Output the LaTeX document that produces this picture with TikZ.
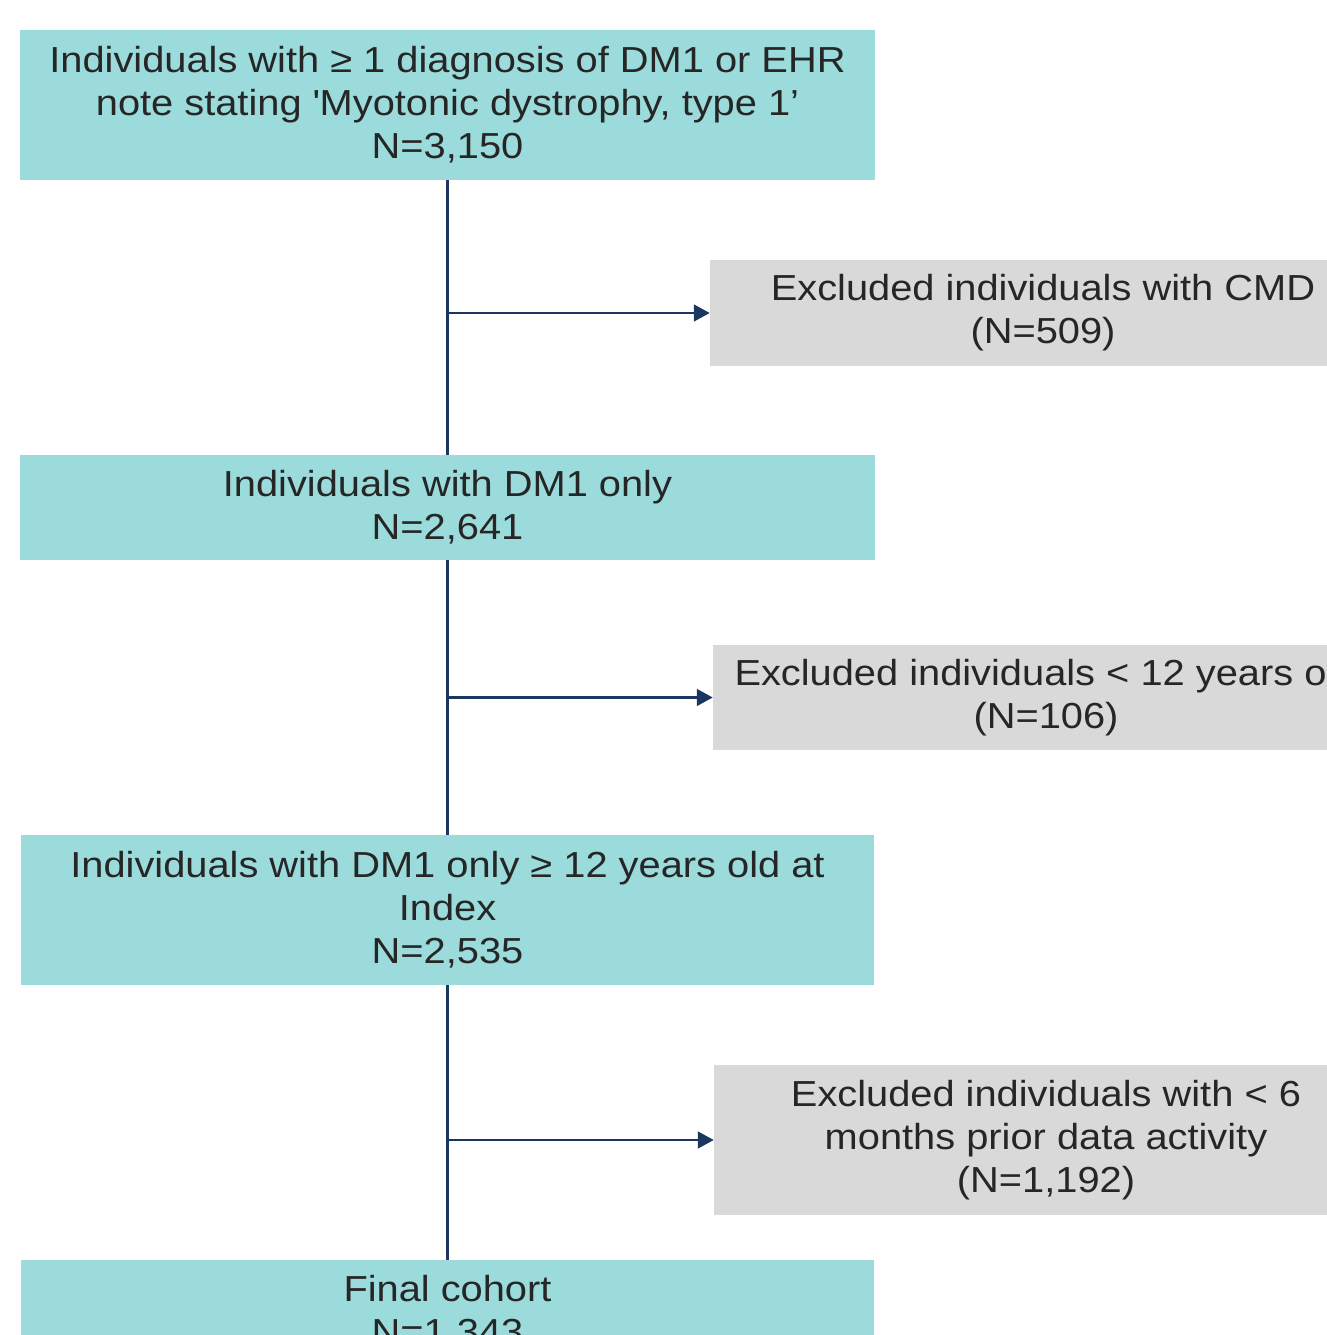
\documentclass[tikz,border=0pt]{standalone}
\usepackage{fontspec}
\setmainfont[FakeStretch=1.1]{Liberation Sans}
\usepackage{xcolor}
\usetikzlibrary{arrows, arrows.meta}
\usetikzlibrary{calc}
\definecolor{tealbox}{HTML}{9BDBDB}
\definecolor{greybox}{HTML}{D9D9D9}
\definecolor{navyline}{HTML}{1B365F}
\definecolor{textgrey}{HTML}{262626}

\begin{document}
\begin{tikzpicture}[x=0.02cm, y=-0.02cm,
    every node/.style={font=\fontsize{20.6}{24.5}\selectfont, text=textgrey, align=center, inner sep=0pt},
    cohort/.style={fill=tealbox, minimum width=17.1cm},
    excl/.style={fill=greybox, minimum width=13.32cm},
    link/.style={draw=navyline, line width=1.2pt},
    flow/.style={link, -{Triangle[length=9pt, width=9.5pt]}}]
    \useasboundingbox (0,0) rectangle (1327,1335);
    \clip (0,0) rectangle (1327,1335);

    \node[cohort, minimum height=3cm] (all) at (447.5,105) {Individuals with ≥ 1 diagnosis of DM1 or EHR\\note stating \textquotesingle Myotonic dystrophy, type 1’\\N=3,150};
    \node[cohort, minimum height=2.1cm] (dmonly) at (447.5,507.5) {Individuals with DM1 only\\N=2,641};
    \node[cohort, minimum width=17.06cm, minimum height=3cm] (adult) at (447.5,910) {Individuals with DM1 only ≥ 12 years old at\\Index\\N=2,535};
    \node[cohort, minimum width=17.06cm, minimum height=2.1cm] (final) at (447.5,1312.5) {Final cohort\\N=1,343};

    \node[excl, minimum height=2.12cm] (cmd) at (1043,313) {Excluded individuals with CMD\\(N=509)};
    \node[excl, minimum height=2.1cm] (young) at (1046,697.5) {Excluded individuals < 12 years old\\(N=106)};
    \node[excl, minimum width=13.28cm, minimum height=3cm] (activity) at (1046,1140) {Excluded individuals with < 6\\months prior data activity\\(N=1,192)};

    \coordinate (j1) at (447,313);
    \coordinate (j2) at (447,697.5);
    \coordinate (j3) at (449,1140);

    \draw[link] (all.south) -- (dmonly.north);
    \draw[link] (dmonly.south) -- (adult.north);
    \draw[link] (adult.south) -- (final.north);

    \draw[flow] (j1) -- (cmd.west);
    \draw[flow] (j2) -- (young.west);
    \draw[flow] (j3) -- (activity.west);
\end{tikzpicture}
\end{document}
